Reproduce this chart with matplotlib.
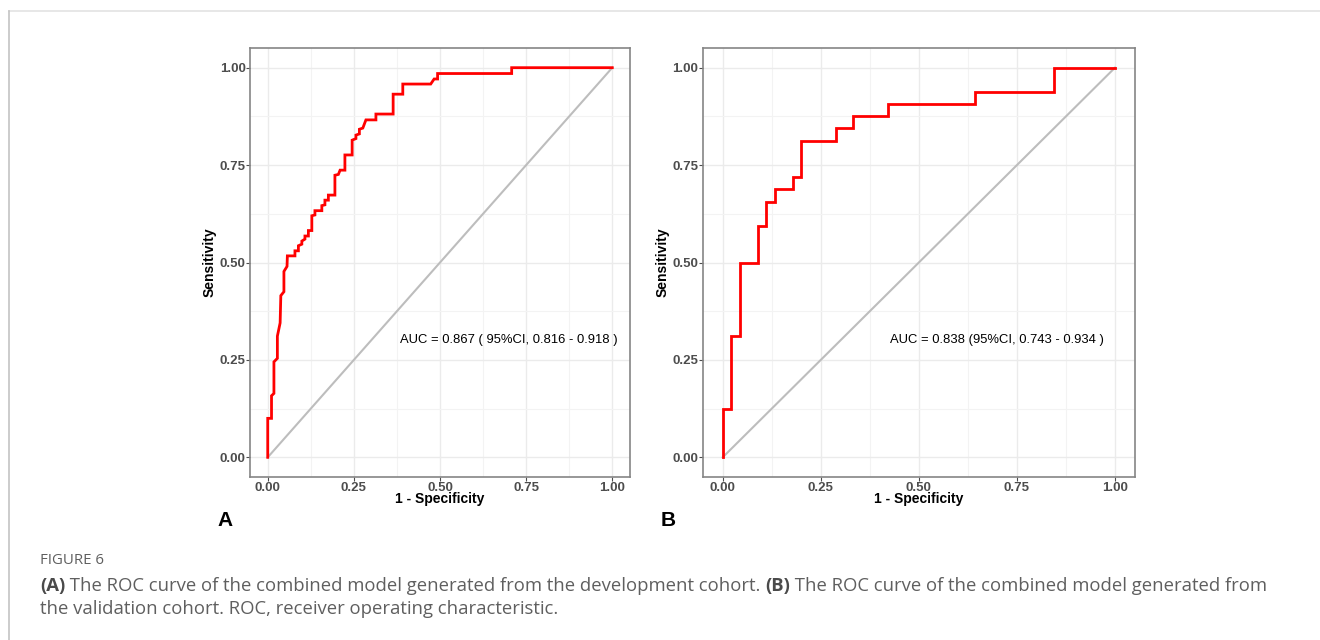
import matplotlib
matplotlib.use("Agg")
import matplotlib.pyplot as plt
import numpy as np

# ---- Data ----
fpr_A = [0.000, 0.000, 0.011, 0.011, 0.018, 0.018, 0.028, 0.028, 0.036, 0.038,
         0.047, 0.047, 0.056, 0.057, 0.079, 0.079, 0.089, 0.089, 0.099, 0.099,
         0.108, 0.108, 0.118, 0.118, 0.128, 0.128, 0.137, 0.137, 0.157, 0.157,
         0.166, 0.166, 0.176, 0.176, 0.195, 0.195, 0.205, 0.210, 0.224, 0.224,
         0.245, 0.245, 0.256, 0.256, 0.266, 0.266, 0.276, 0.285, 0.314, 0.314,
         0.364, 0.364, 0.392, 0.392, 0.473, 0.483, 0.493, 0.493, 0.708, 0.708,
         1.000]
tpr_A = [0.000, 0.100, 0.100, 0.158, 0.164, 0.245, 0.254, 0.311, 0.345, 0.415,
         0.425, 0.477, 0.490, 0.517, 0.517, 0.530, 0.530, 0.543, 0.547, 0.555,
         0.560, 0.568, 0.568, 0.582, 0.582, 0.620, 0.622, 0.633, 0.633, 0.646,
         0.648, 0.660, 0.660, 0.673, 0.673, 0.724, 0.726, 0.737, 0.737, 0.776,
         0.776, 0.814, 0.818, 0.827, 0.830, 0.842, 0.845, 0.866, 0.866, 0.881,
         0.881, 0.932, 0.932, 0.958, 0.958, 0.971, 0.971, 0.985, 0.985, 1.000,
         1.000]

fpr_B = [0.000, 0.000, 0.022, 0.022, 0.044, 0.044, 0.089, 0.089, 0.111, 0.111,
         0.133, 0.133, 0.178, 0.178, 0.200, 0.200, 0.289, 0.289, 0.333, 0.333,
         0.422, 0.422, 0.644, 0.644, 0.844, 0.844, 1.000]
tpr_B = [0.000, 0.125, 0.125, 0.3125, 0.3125, 0.500, 0.500, 0.594, 0.594, 0.656,
         0.656, 0.6875, 0.6875, 0.719, 0.719, 0.8125, 0.8125, 0.844, 0.844, 0.875,
         0.875, 0.906, 0.906, 0.9375, 0.9375, 1.000, 1.000]

auc_labels = ["AUC = 0.867 ( 95%CI, 0.816 - 0.918 )",
              "AUC = 0.838 (95%CI, 0.743 - 0.934 )"]
panel_letters = ["A", "B"]
ticks = [0.00, 0.25, 0.50, 0.75, 1.00]
tick_labels = ["0.00", "0.25", "0.50", "0.75", "1.00"]
minor_ticks = [0.125, 0.375, 0.625, 0.875]

W, H = 1320, 640
fig = plt.figure(figsize=(W / 100, H / 100), dpi=100)
fig.patch.set_facecolor("white")

def fx(px):
    return px / W

def fy(py):
    return 1 - py / H

# page border lines
fig.add_artist(plt.Line2D([fx(9), fx(1320)], [fy(11), fy(11)], color="#e3e3e3", lw=1.2))
fig.add_artist(plt.Line2D([fx(9), fx(9)], [fy(11), fy(640)], color="#c4c4c4", lw=1.2))

FONT = "Liberation Sans"
axes_px = [(250.5, 629.5), (703.1, 1134.6)]
top_px, bot_px = 48.2, 476.8
curves = [(fpr_A, tpr_A), (fpr_B, tpr_B)]
letter_px = [(225, 520), (668, 520)]

for i, ((l, r), (xs, ys)) in enumerate(zip(axes_px, curves)):
    ax = fig.add_axes([fx(l), fy(bot_px), (r - l) / W, (bot_px - top_px) / H])
    ax.set_xlim(-0.05, 1.05)
    ax.set_ylim(-0.05, 1.05)
    ax.set_xticks(ticks)
    ax.set_yticks(ticks)
    ax.set_xticks(minor_ticks, minor=True)
    ax.set_yticks(minor_ticks, minor=True)
    ax.set_xticklabels(tick_labels, fontsize=9.5, fontweight="bold", color="#4d4d4d", family=FONT)
    ax.set_yticklabels(tick_labels, fontsize=9.5, fontweight="bold", color="#4d4d4d", family=FONT)
    ax.tick_params(which="major", length=3, width=0.8, color="#4d4d4d", pad=0.5)
    ax.tick_params(which="minor", length=0)
    ax.grid(which="major", color="#ebebeb", lw=1.0)
    ax.grid(which="minor", color="#f3f3f3", lw=0.8)
    ax.set_axisbelow(True)
    for s in ax.spines.values():
        s.set_color("#858585")
        s.set_linewidth(1.2)
    ax.plot([0, 1], [0, 1], color="#bdbdbd", lw=1.5, zorder=2)
    ax.plot(xs, ys, color="#ff0000", lw=2.0, zorder=3, solid_joinstyle="miter")
    ax.text(0.70, 0.30, auc_labels[i], ha="center", va="center", fontsize=9.4,
            family=FONT, color="black")
    ax.set_xlabel("1 - Specificity", fontsize=10, fontweight="bold", family=FONT, labelpad=-1.5)
    ax.set_ylabel("Sensitivity", fontsize=10, fontweight="bold", family=FONT, labelpad=2)
    lx, ly = letter_px[i]
    fig.text(fx(lx), fy(ly), panel_letters[i], fontsize=15, fontweight="bold",
             family=FONT, ha="center", va="center")

# caption
CAP = "Open Sans"
fig.text(fx(40), fy(561), "FIGURE 6", fontsize=10.8, family=CAP, color="#5f5f5f",
         ha="left", va="center")

renderer = fig.canvas.get_renderer()

def write_line(x, y, parts):
    for txt, bold in parts:
        t = fig.text(fx(x), fy(y), txt, fontsize=13.3, family=CAP,
                     fontweight="bold" if bold else "normal",
                     color="#4a4a4a" if bold else "#5f5f5f", ha="left", va="center")
        bb = t.get_window_extent(renderer=renderer)
        x += bb.width

write_line(40, 586, [("(A)", True),
                     (" The ROC curve of the combined model generated from the development cohort. ", False),
                     ("(B)", True),
                     (" The ROC curve of the combined model generated from", False)])
write_line(40, 609, [("the validation cohort. ROC, receiver operating characteristic.", False)])

fig.savefig("out.png", dpi=100, facecolor="white")
